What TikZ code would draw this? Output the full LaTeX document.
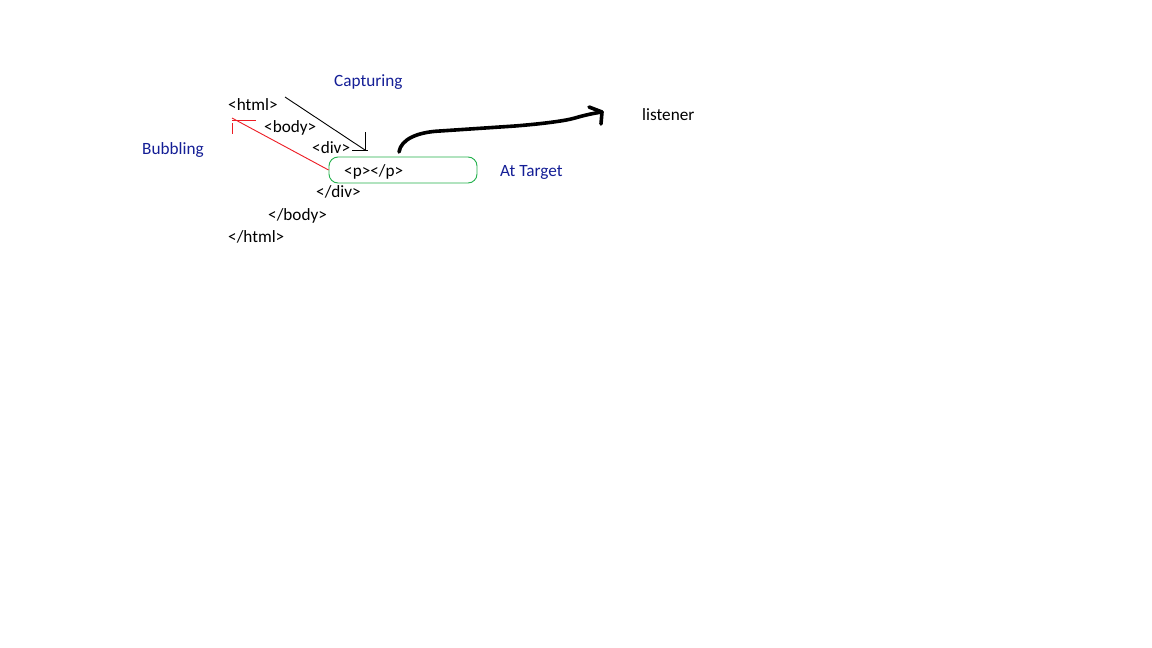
\documentclass[tikz,border=0pt]{standalone}
\usepackage{fontspec}
\setmainfont{Carlito}
\definecolor{labelblue}{RGB}{20,30,150}
\definecolor{targetgreen}{RGB}{34,177,76}
\definecolor{bubblered}{RGB}{237,28,36}
\begin{document}
\begin{tikzpicture}[x=1pt,y=-1pt,
  tag/.style={anchor=base west, inner sep=0pt, font=\fontsize{17.2}{19}\selectfont},
  phase/.style={tag, text=labelblue},
  thinpen/.style={line width=0.9pt},
  handpen/.style={line width=3.6pt, line cap=round, line join=round}]
\useasboundingbox[fill=white] (0,0) rectangle (1152,648);

% markup tree
\node[tag] (html)  at (228,110) {<html>};
\node[tag] (body)  at (264,132) {<body>};
\node[tag] (div)   at (312,153) {<div>};
\node[tag] (p)     at (344,176) {<p></p>};
\node[tag] (cdiv)  at (316,197) {</div>};
\node[tag] (cbody) at (268,220) {</body>};
\node[tag] (chtml) at (228,242) {</html>};

% phase labels
\node[phase] (capturing) at (334,86)  {Capturing};
\node[phase] (bubbling)  at (142,154) {Bubbling};
\node[phase] (attarget)  at (500,176) {At Target};
\node[tag]   (listener)  at (642,120) {listener};

% target outline
\node[draw=targetgreen, thinpen, rounded corners=9pt, minimum width=148pt,
      minimum height=26pt, inner sep=0pt] (target) at (403,170) {};

% capturing arrow
\coordinate (capstart) at (285,97);
\coordinate (captip) at (365,150);
\draw[thinpen] (capstart) -- (captip);
\draw[thinpen] (365,132) -- (captip) (352,150) -- (368,150);

% bubbling arrow
\coordinate (bubstart) at (target.west);
\coordinate (bubtip) at (232,118);
\draw[thinpen, bubblered] (bubstart) -- (bubtip);
\draw[thinpen, bubblered] (232,120) -- (256,120) (232,123) -- (232,134);

% hand-drawn arrow to the listener
\coordinate (hstart) at (399,152);
\coordinate (htip) at (602,112);
\draw[handpen] (hstart) .. controls (401,139) and (418,132) .. (440,131)
  .. controls (470,129) and (500,127) .. (515,126)
  .. controls (540,124) and (565,121) .. (575,118)
  .. controls (585,115) and (595,113) .. (htip);
\draw[handpen] (589,107) -- (htip) -- (601,124);
\end{tikzpicture}
\end{document}
